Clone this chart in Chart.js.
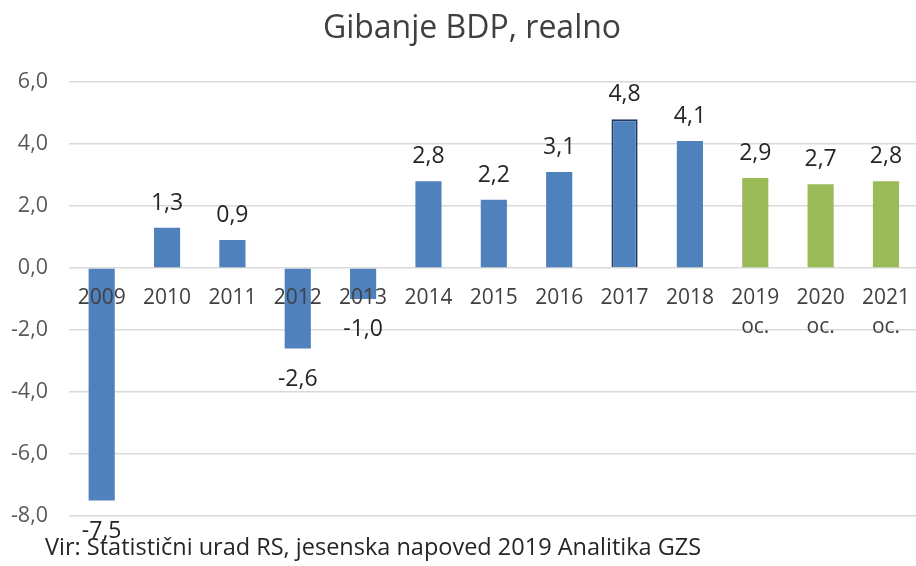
<!DOCTYPE html>
<html><head><meta charset="utf-8">
<script src="https://cdn.jsdelivr.net/npm/chart.js@4.4.1/dist/chart.umd.min.js"></script>
<style>
html,body{margin:0;padding:0;background:#fff;overflow:hidden;}
#wrap{width:926px;height:566px;position:relative;}
</style></head>
<body><div id="wrap"><canvas id="c" width="926" height="566"></canvas></div>
<script>
const categories = ['2009','2010','2011','2012','2013','2014','2015','2016','2017','2018',['2019','oc.'],['2020','oc.'],['2021','oc.']];
const values = [-7.5, 1.3, 0.9, -2.6, -1.0, 2.8, 2.2, 3.1, 4.8, 4.1, 2.9, 2.7, 2.8];
const forecastFlags = [0,0,0,0,0,0,0,0,0,0,1,1,1];
const highlightFlags = [0,0,0,0,0,0,0,0,1,0,0,0,0];
const titleText = 'Gibanje BDP, realno';
const footerText = 'Vir: Statistični urad RS, jesenska napoved 2019 Analitika GZS';

const FONT = '"Open Sans", sans-serif';
const fmt = v => v.toFixed(1).replace('.', ',');

const labelPlugin = {
  id: 'labels',
  afterDatasetsDraw(chart) {
    const ctx = chart.ctx;
    const meta = chart.getDatasetMeta(0);
    ctx.save();
    ctx.font = '23px ' + FONT;
    ctx.fillStyle = '#262626';
    ctx.textAlign = 'center';
    ctx.textBaseline = 'alphabetic';
    meta.data.forEach((bar, i) => {
      const v = values[i];
      if (v >= 0) {
        ctx.fillText(fmt(v), bar.x, bar.y - 18);
      } else {
        ctx.fillText(fmt(v), bar.x, bar.y + 37);
      }
    });
    ctx.restore();
  },
  afterDraw(chart) {
    const ctx = chart.ctx;
    ctx.save();
    ctx.fillStyle = '#404040';
    ctx.textAlign = 'center';
    ctx.textBaseline = 'alphabetic';
    ctx.font = '32px ' + FONT;
    ctx.fillText(titleText, 472, 38);
    ctx.textAlign = 'left';
    ctx.fillStyle = '#262626';
    ctx.font = '23.5px ' + FONT;
    ctx.fillText(footerText, 45, 555);
    ctx.restore();
  }
};

new Chart(document.getElementById('c'), {
  type: 'bar',
  data: {
    labels: categories,
    datasets: [{
      data: values,
      backgroundColor: values.map((v, i) => forecastFlags[i] ? '#9BBB59' : '#4F81BD'),
      borderColor: values.map((v, i) => highlightFlags[i] ? '#1F3864' : 'rgba(0,0,0,0)'),
      borderWidth: values.map((v, i) => highlightFlags[i] ? 2 : 0),
      barPercentage: 0.4,
      categoryPercentage: 1.0
    }]
  },
  options: {
    responsive: false,
    animation: false,
    events: [],
    layout: { padding: { top: 82, bottom: 50, left: 0, right: 0 } },
    plugins: { legend: { display: false }, tooltip: { enabled: false }, title: { display: false } },
    scales: {
      x: {
        position: { y: 0 },
        grid: { display: false, drawTicks: false },
        border: { display: false },
        ticks: { z: 1, color: '#404040', font: { family: FONT, size: 21, lineHeight: 1.38 }, padding: 16, maxRotation: 0, autoSkip: false }
      },
      y: {
        min: -8, max: 6,
        grid: { color: '#D9D9D9', lineWidth: 1.5, drawTicks: false },
        border: { display: false },
        ticks: { stepSize: 2, color: '#595959', font: { family: FONT, size: 21.5 }, padding: 21, callback: v => fmt(v) },
        afterFit(scale) { scale.width = 69; }
      }
    }
  },
  plugins: [labelPlugin]
});
</script></body></html>
